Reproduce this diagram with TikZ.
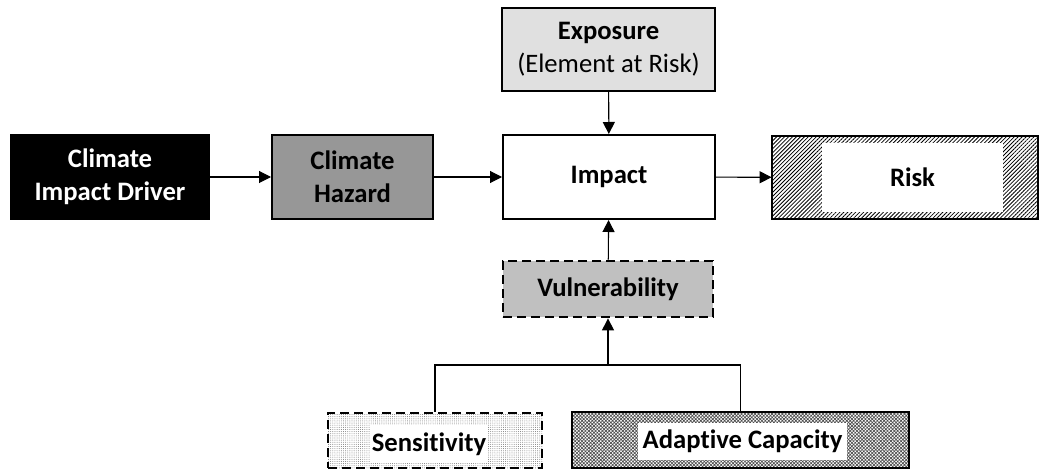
\documentclass[tikz,border=0pt]{standalone}
\usepackage{fontspec}
\setmainfont{Carlito}[Ligatures=NoCommon]
\usetikzlibrary{arrows.meta,patterns.meta}
\definecolor{hazgray}{HTML}{979797}
\definecolor{expgray}{HTML}{E0E0E0}
\definecolor{vulgray}{HTML}{C0C0C0}
\begin{document}
\begin{tikzpicture}[x=0.75pt,y=-0.75pt,
  txt/.style={font=\fontsize{20}{25}\selectfont\bfseries,align=center},
  box/.style={txt,draw=black,line width=1.5pt,inner sep=0pt},
  inbox/.style={txt,fill=white,inner sep=0pt},
  dashbox/.style={box,line width=2.1pt,dash pattern=on 6.5pt off 4pt},
  conn/.style={line width=0.8pt,-{Triangle[length=9pt,width=9pt]}},
  wire/.style={line width=0.8pt},
  dim/.style args={#1x#2}{minimum width=#1*0.75pt,minimum height=#2*0.75pt}
]
\useasboundingbox (0,0) rectangle (1041,470);

\node[box,fill=black,text=white,dim=198x84] (driver) at (110,177) {Climate\\Impact Driver};
\node[box,fill=hazgray,dim=161x84] (hazard) at (352.5,177) {Climate\\Hazard};
\node[box,fill=white,dim=212x84] (impact) at (609,177) {Impact};
\node[box,fill=expgray,dim=213x83] (exposure) at (608.5,49.5) {Exposure\\\mdseries(Element at Risk)};
\node[box,pattern={Lines[angle=45,distance=2.1pt,line width=0.6pt]},dim=266x83] (risk) at (905,177.5) {};
\node[inbox,dim=181x69] (riskin) at (912.5,177.5) {Risk};
\node[dashbox,fill=vulgray,dim=210x56] (vuln) at (608,289) {Vulnerability};
\node[dashbox,pattern={Dots[distance=1.6pt,radius=0.35pt]},pattern color=black!55,dim=214x55] (sens) at (435,440.5) {};
\node[inbox,dim=118x38] (sensin) at (429,444) {Sensitivity};
\node[box,pattern={Hatch[angle=45,distance=1.8pt,line width=0.5pt]},pattern color=black!70,dim=337x56] (adapt) at (740.5,440) {};
\node[inbox,dim=209x37] (adaptin) at (742.5,441.5) {Adaptive Capacity};

\coordinate (j) at (608,365);

\draw[conn] (driver) -- (hazard);
\draw[conn] (hazard) -- (impact);
\draw[conn] (impact) -- (risk);
\draw[conn] (exposure) -- (impact);
\draw[conn] (vuln) -- (impact);
\draw[wire] (sens.north) |- (j) -| (adapt.north);
\draw[conn] (j) -- (vuln.south);
\end{tikzpicture}
\end{document}
